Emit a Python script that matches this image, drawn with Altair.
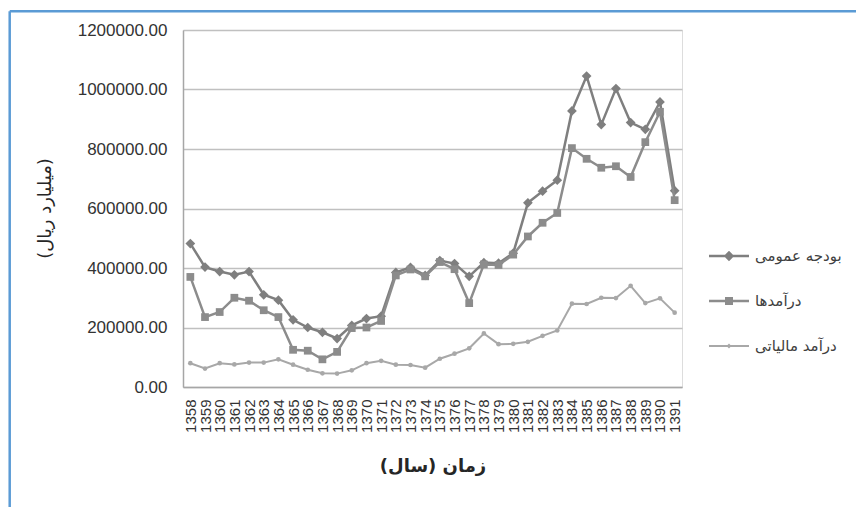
import altair as alt
import pandas as pd

years = [str(y) for y in range(1358, 1392)]

budget = [482000, 403000, 388000, 377000, 388000, 310000, 292000, 226000, 200000, 184000,
          163000, 207000, 230000, 238000, 385000, 402000, 375000, 425000, 415000, 372000,
          418000, 416000, 450000, 619000, 658000, 695000, 928000, 1045000, 882000, 1003000,
          889000, 866000, 958000, 660000]
revenue = [370000, 235000, 252000, 300000, 290000, 258000, 235000, 125000, 122000, 93000,
           118000, 198000, 200000, 222000, 375000, 395000, 372000, 420000, 396000, 282000,
           412000, 410000, 445000, 506000, 552000, 585000, 803000, 767000, 737000, 742000,
           706000, 823000, 925000, 628000]
tax = [80000, 62000, 80000, 76000, 82000, 82000, 93000, 75000, 58000, 46000,
       45000, 56000, 80000, 88000, 75000, 74000, 65000, 95000, 112000, 130000,
       180000, 144000, 145000, 152000, 172000, 190000, 280000, 279000, 300000, 299000,
       340000, 282000, 298000, 250000]

series_names = ["بودجه عمومی", "درآمدها", "درآمد مالیاتی"]
series_colors = ["#7f7f7f", "#8c8c8c", "#a8a8a8"]
marker_shapes = ["diamond", "square", "circle"]
marker_sizes = [95, 60, 22]
line_widths = [2.5, 2.5, 2]
y_ticks = [0, 200000, 400000, 600000, 800000, 1000000, 1200000]

legend_paths = [
    "M-1,-0.06L1,-0.06L1,0.06L-1,0.06Z M0,-0.26L0.26,0L0,0.26L-0.26,0Z",
    "M-1,-0.06L1,-0.06L1,0.06L-1,0.06Z M-0.2,-0.2L0.2,-0.2L0.2,0.2L-0.2,0.2Z",
    "M-1,-0.05L1,-0.05L1,0.05L-1,0.05Z M0,-0.12L0.12,0L0,0.12L-0.12,0Z",
]

rows = []
for name, vals in zip(series_names, [budget, revenue, tax]):
    for yr, v in zip(years, vals):
        rows.append({"year": yr, "value": v, "series": name})
df = pd.DataFrame(rows)

W, H = 499, 357

x_enc = alt.X(
    "year:O", sort=years,
    scale=alt.Scale(type="point", padding=0.5),
    axis=alt.Axis(
        title="\u200fزمان (سال)\u200f", labelAngle=270, labelFont="Liberation Sans",
        labelFontSize=15, labelColor="#333333", labelPadding=12, labelOverlap=False,
        ticks=False, domainColor="#a6a6a6", domainWidth=1.5, grid=False,
        titleFont="DejaVu Sans", titleFontSize=18, titleFontWeight="bold",
        titleColor="#262626", titleY=79, titleBaseline="middle",
    ),
)
y_enc = alt.Y(
    "value:Q",
    scale=alt.Scale(domain=[0, 1200000], nice=False),
    axis=alt.Axis(
        values=y_ticks, format=".2f", title="\u200f(میلیارد ریال)\u200f",
        labelFont="Liberation Sans", labelFontSize=17, labelColor="#333333",
        labelPadding=16, ticks=False, domainColor="#a6a6a6", domainWidth=1.5,
        gridColor="#c0c0c0", gridWidth=1.5,
        titleFont="DejaVu Sans", titleFontSize=18, titleFontWeight="normal",
        titleColor="#262626", titleX=-138, titleY=178, titleAngle=270,
        titleBaseline="middle",
    ),
)

base = alt.Chart(df).encode(x=x_enc, y=y_enc)

layers = []
for name, col, shp, sz, lw in zip(series_names, series_colors, marker_shapes, marker_sizes, line_widths):
    sub = base.transform_filter(alt.datum.series == name)
    layers.append(sub.mark_line(color=col, strokeWidth=lw))
    layers.append(sub.mark_point(shape=shp, size=sz, filled=True, color=col, opacity=1))

leg = alt.Legend(
    title=None, orient="none", legendX=526, legendY=206, direction="vertical",
    symbolSize=1600, symbolStrokeWidth=0, symbolOpacity=1,
    labelFont="DejaVu Sans", labelFontSize=15, labelColor="#404040",
    labelOffset=6, rowPadding=17, padding=0, labelLimit=200,
)
legend_df = pd.DataFrame({"year": [years[0]] * 3, "value": [-600000] * 3, "series": series_names})
legend_layer = alt.Chart(legend_df).mark_point(filled=True, clip=True, size=1600).encode(
    x=x_enc, y=y_enc,
    color=alt.Color("series:N", sort=series_names,
                    scale=alt.Scale(domain=series_names, range=series_colors), legend=leg),
    shape=alt.Shape("series:N", sort=series_names,
                    scale=alt.Scale(domain=series_names, range=legend_paths), legend=leg),
)

one = pd.DataFrame({"k": [0]})
border_top = alt.Chart(one).mark_rule(color="#5b9bd5", strokeWidth=2.5).encode(
    x=alt.value(-173.3), x2=alt.value(700), y=alt.value(-18.7))
border_left = alt.Chart(one).mark_rule(color="#5b9bd5", strokeWidth=2.5).encode(
    x=alt.value(-173.3), y=alt.value(-18.7), y2=alt.value(520))

chart = alt.layer(border_top, border_left, *layers, legend_layer).properties(
    width=W, height=H,
    autosize=alt.AutoSizeParams(type="none"),
    padding={"left": 175, "top": 22, "right": 174, "bottom": 120},
).configure_view(stroke=None).configure(background="white")

chart.save("out.html", embed_options={"renderer": "svg", "actions": False})
